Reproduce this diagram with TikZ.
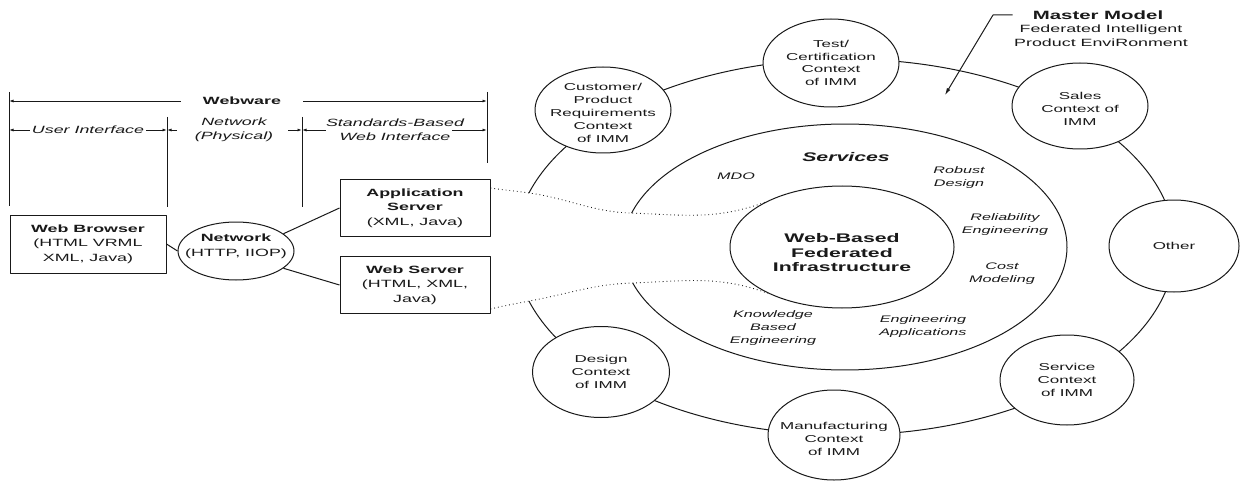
\documentclass[tikz,border=0pt]{standalone}
\usepackage{fontspec}
\setmainfont{Liberation Sans}[FakeStretch=1.7]
\usetikzlibrary{arrows.meta,shapes.geometric}
\definecolor{ink}{gray}{0.1}

\begin{document}
\begin{tikzpicture}[x=1pt,y=-1pt,line join=round,
  every node/.style={inner sep=0pt,align=center,text=ink},
  rule/.style={draw=ink,line width=0.9pt},
  dim/.style={draw=ink,line width=0.9pt,-{Latex[length=4.5pt,width=3pt]}},
  dimlab/.style={font=\itshape\fontsize{10.5}{14}\selectfont},
  boxnode/.style={draw=ink,line width=1pt,rectangle,minimum width=150pt,minimum height=56pt,font=\fontsize{10.5}{14.5}\selectfont},
  ring/.style={draw=ink,line width=1pt},
  ctx/.style={ellipse,draw=ink,fill=white,line width=1pt,minimum width=136pt,minimum height=90pt},
  ctxlab/.style={font=\fontsize{10}{12.8}\selectfont},
  svc/.style={font=\itshape\fontsize{9.5}{13}\selectfont},
  dots/.style={draw=ink,line width=0.9pt,dash pattern=on 0.8pt off 3pt},
  link/.style={draw=ink,line width=1pt},
  lead/.style={draw=ink,line width=1pt,-{Latex[length=7pt,width=4pt]}}]

\useasboundingbox[fill=white] (0,0) rectangle (1241,481);

% ---- Webware dimension lines ----
\coordinate (L0) at (9,92);   \coordinate (L0b) at (9,206);
\coordinate (L1) at (167,117); \coordinate (L1b) at (167,207);
\coordinate (L2) at (302,117); \coordinate (L2b) at (302,207);
\coordinate (L3) at (487,92);  \coordinate (L3b) at (487,163);
\draw[rule] (L0) -- (L0b);
\draw[rule] (L1) -- (L1b);
\draw[rule] (L2) -- (L2b);
\draw[rule] (L3) -- (L3b);

\node[font=\bfseries\fontsize{10.5}{14}\selectfont,inner xsep=22pt] (ww) at (242,101) {Webware};
\draw[dim] (ww.west) -- (ww.west -| L0);
\draw[dim] (ww.east) -- (ww.east -| L3);

\node[dimlab,inner xsep=2pt] (ui) at (88,130) {User Interface};
\draw[dim] (ui.west) -- (ui.west -| L0);
\draw[dim] (ui.east) -- (ui.east -| L1);

\node[dimlab] (np) at (234,130) {Network\\(Physical)};
\draw[dim] ([xshift=-18pt]np.west) -- (np.west -| L1);
\draw[dim] ([xshift=15pt]np.east) -- (np.east -| L2);

\node[dimlab] (sbw) at (395,130) {Standards-Based\\Web Interface};
\draw[dim] (sbw.west) -- (sbw.west -| L2);
\draw[dim] ([xshift=-12pt]sbw.east) -- (sbw.east -| L3);

% ---- client / network / servers ----
\node[boxnode,minimum width=156pt,minimum height=58pt] (wb) at (88,244) {\textbf{Web Browser}\\(HTML VRML\\XML, Java)};
\node[ellipse,draw=ink,line width=1pt,minimum width=116pt,minimum height=58pt] (net) at (236,251) {};
\node[font=\fontsize{10.5}{15}\selectfont] at ([yshift=5pt]net.center) {\textbf{Network}\\(HTTP, IIOP)};
\node[boxnode] (app) at (415,208) {\textbf{Application}\\\textbf{Server}\\(XML, Java)};
\node[boxnode,minimum height=57pt] (ws) at (415,285) {\textbf{Web Server}\\(HTML, XML,\\Java)};
\draw[link] (wb.east) -- (net.west);
\draw[link] (net.20) -- (app.west);
\draw[link] (net.-20) -- (ws.west);

% ---- master model ring and services ring (open on the left) ----
\draw[ring] plot[domain=196.7:523.3,samples=240,variable=\t] ({845+330*cos(\t)},{247+188*sin(\t)});
\draw[ring] plot[domain=196:523,samples=200,variable=\t] ({845+222*cos(\t)},{247+123*sin(\t)});
\coordinate (rb1) at ({845+330*cos(196.7)},{247+188*sin(196.7)});
\coordinate (rb2) at ({845+330*cos(163.3)},{247+188*sin(163.3)});
\coordinate (svb1) at ({845+222*cos(196)},{247+123*sin(196)});
\coordinate (svb2) at ({845+222*cos(163)},{247+123*sin(163)});

\node[ellipse,draw=ink,line width=1pt,minimum width=224pt,minimum height=122pt] (wbfi) at (842,247) {};
\node[font=\bfseries\fontsize{12.5}{14.5}\selectfont] at ([yshift=-6pt]wbfi.center) {Web-Based\\Federated\\Infrastructure};

% dotted channels from the servers into the infrastructure
\draw[dots] ([yshift=20pt]app.east) to[out=-8,in=172] (rb1) to[out=-8,in=178] (svb1) to[out=-2,in=200] (wbfi.150);
\draw[dots] ([yshift=-24pt]ws.east) to[out=14,in=192] (rb2) to[out=10,in=182] (svb2) to[out=2,in=160] (wbfi.212);

% ---- context circles ----
\node[ctx,minimum height=86pt] (cust) at (603,110) {};
\node[ctxlab] at ([yshift=-3pt]cust.center) {Customer/\\Product\\Requirements\\Context\\of IMM};
\node[ctx,minimum height=88pt] (test) at (831,63) {};
\node[ctxlab] at (test) {Test/\\Certification\\Context\\of IMM};
\node[ctx,minimum height=86pt] (sales) at (1080,106) {};
\node[ctxlab] at ([yshift=-3pt]sales.center) {Sales\\Context of\\IMM};
\node[ctx,minimum width=130pt,minimum height=92pt] (other) at (1174,246) {};
\node[ctxlab] at (other) {Other};
\node[ctx,minimum width=134pt] (service) at (1067,380) {};
\node[ctxlab] at (service) {Service\\Context\\of IMM};
\node[ctx,minimum width=132pt] (manu) at (834,435) {};
\node[ctxlab] at ([yshift=-4pt]manu.center) {Manufacturing\\Context\\of IMM};
\node[ctx,minimum width=137pt,minimum height=91pt] (design) at (601,372) {};
\node[ctxlab] at (design) {Design\\Context\\of IMM};

% ---- services ----
\node[font=\bfseries\itshape\fontsize{12.5}{14}\selectfont] (svcs) at (846,157) {Services};
\node[svc] at (736,176) {MDO};
\node[svc] at (959,178) {Robust\\Design};
\node[svc] at (1005,225) {Reliability\\Engineering};
\node[svc] at (1002,274) {Cost\\Modeling};
\node[svc] at (773,328) {Knowledge\\Based\\Engineering};
\node[svc] at (923,327) {Engineering\\Applications};

% ---- master model caption ----
\node[font=\bfseries\fontsize{12}{14}\selectfont] (mmt) at (1098,15) {Master Model};
\node[font=\fontsize{10.5}{13.5}\selectfont] (mms) at (1101,35.5) {Federated Intelligent\\Product EnviRonment};
\coordinate (mmbend) at (993,15);
\coordinate (mmtip) at (945,95);
\draw[lead] ([xshift=-20pt]mmt.west) -- (mmbend) -- (mmtip);

\end{tikzpicture}
\end{document}
